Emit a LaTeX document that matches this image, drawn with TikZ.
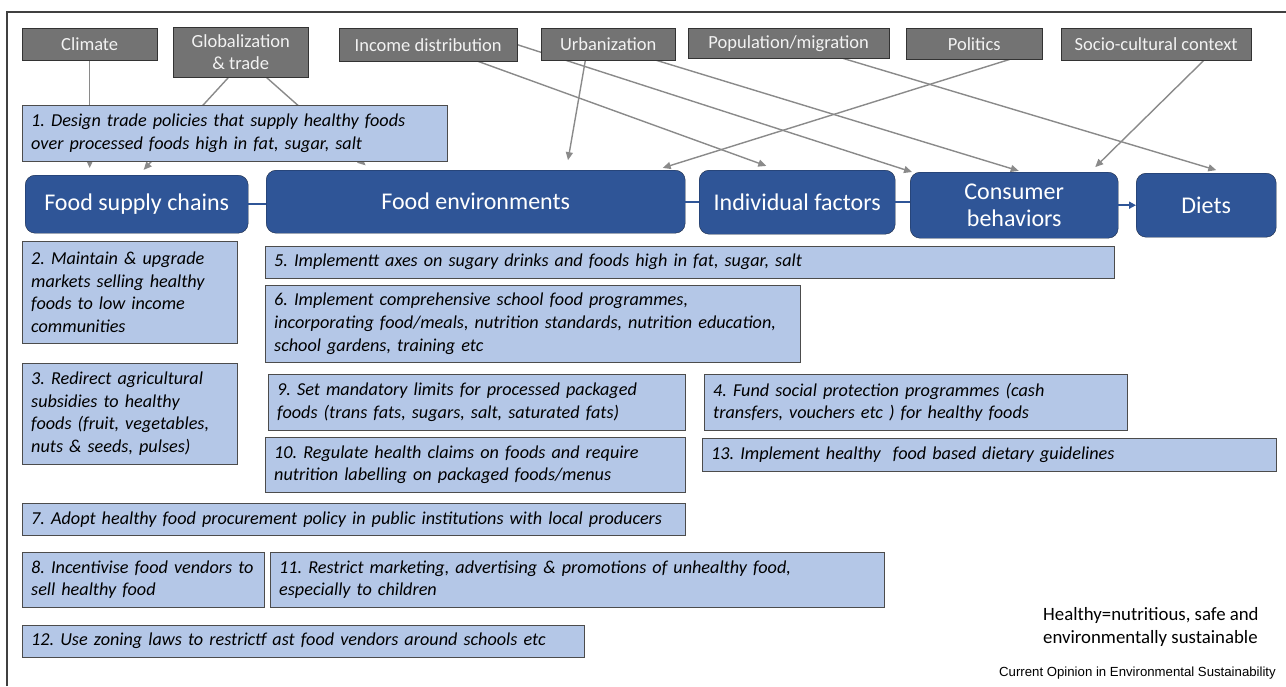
\documentclass[tikz,border=0pt]{standalone}
\usepackage{fontspec}
\setmainfont{Carlito}
\newfontfamily\creditfont{Liberation Sans}
\usetikzlibrary{arrows.meta,calc}
\definecolor{stageblue}{HTML}{2F5597}
\definecolor{stageline}{HTML}{1B2A47}
\definecolor{policyblue}{HTML}{B4C7E7}
\definecolor{drivergray}{HTML}{737373}
\definecolor{linkgray}{HTML}{8A8A8A}
\pgfdeclarelayer{background}
\pgfsetlayers{background,main}
\frenchspacing

\begin{document}
\begin{tikzpicture}[x=1pt,y=-1pt,
    driver/.style={rectangle,draw=black!80,fill=drivergray,text=white!95!black,anchor=north west,inner sep=0pt,align=center,font=\fontsize{18.5}{22}\selectfont},
    stage/.style={rectangle,rounded corners=10pt,draw=stageline,fill=stageblue,text=white,anchor=north west,inner sep=0pt,align=center,font=\fontsize{24}{27.5}\selectfont},
    policy/.style={rectangle,draw=black!70,fill=policyblue,anchor=north west,inner xsep=9pt,inner ysep=0pt,align=left,font=\fontsize{18.2}{22.6}\selectfont\itshape},
    link/.style={draw=linkgray,line width=1.4pt,-{Triangle[length=8pt,width=7pt]},shorten >=7pt},
    chain/.style={draw=stageblue,line width=1.8pt}]
  \useasboundingbox (0,0) rectangle (1286,686);
  \draw[black!75,line width=1.2pt] (7,686) -- (7,12) -- (1286,12);
  %drivers
  \node[driver,minimum width=135,minimum height=32] (climate) at (22,28) {Climate};
  \node[driver,minimum width=135,minimum height=50] (global) at (173,27) {Globalization\\\& trade};
  \node[driver,minimum width=178,minimum height=33] (income) at (339,28) {Income distribution};
  \node[driver,minimum width=134,minimum height=32] (urban) at (541,28) {Urbanization};
  \node[driver,minimum width=201,minimum height=30] (popmig) at (688,28) {Population/migration};
  \node[driver,minimum width=136,minimum height=31] (politics) at (906,28) {Politics};
  \node[driver,minimum width=190,minimum height=32] (socio) at (1061,28) {Socio-cultural context};
  %food system
  \node[stage,minimum width=223,minimum height=58] (supply) at (25,175) {Food supply chains};
  \node[stage,minimum width=419,minimum height=63] (environ) at (266,170) {Food environments};
  \node[stage,minimum width=196,minimum height=64] (indiv) at (699,170) {Individual factors};
  \node[stage,minimum width=208,minimum height=66] (consumer) at (910,172) {Consumer\\behaviors};
  \node[stage,minimum width=140,minimum height=64] (diets) at (1136,173) {Diets};
  %policies
  \node[policy,text width=407,minimum height=56] (pol1) at (22,105) {1. Design trade policies that supply healthy foods\\over processed foods high in fat, sugar, salt};
  \node[policy,text width=197,minimum height=102] (pol2) at (22,241) {2. Maintain \& upgrade\\markets selling healthy\\foods to low income\\communities};
  \node[policy,text width=197,minimum height=101] (pol3) at (22,363) {3. Redirect agricultural\\subsidies to healthy\\foods (fruit, vegetables,\\nuts \& seeds, pulses)};
  \node[policy,text width=831,minimum height=32] (pol5) at (265,246) {5. Implementt axes on sugary drinks and foods high in fat, sugar, salt};
  \node[policy,text width=517,minimum height=77] (pol6) at (265,285) {6. Implement comprehensive school food programmes,\\incorporating food/meals, nutrition standards, nutrition education,\\school gardens, training etc};
  \node[policy,text width=399,minimum height=56] (pol9) at (268,374) {9. Set mandatory limits for processed packaged\\foods (trans fats, sugars, salt, saturated fats)};
  \node[policy,text width=405,minimum height=56] (pol4) at (704,374) {4. Fund social protection programmes (cash\\transfers, vouchers etc ) for healthy foods};
  \node[policy,text width=402,minimum height=55] (pol10) at (265,437) {10. Regulate health claims on foods and require\\nutrition labelling on packaged foods/menus};
  \node[policy,text width=556,minimum height=33] (pol13) at (702,438) {13. Implement healthy\ \ food based dietary guidelines};
  \node[policy,text width=645,minimum height=32] (pol7) at (22,503) {7. Adopt healthy food procurement policy in public institutions with local producers};
  \node[policy,text width=224,minimum height=55] (pol8) at (22,552) {8. Incentivise food vendors to\\sell healthy food};
  \node[policy,text width=596,minimum height=55] (pol11) at (270,552) {11. Restrict marketing, advertising \& promotions of unhealthy food,\\especially to children};
  \node[policy,text width=544,minimum height=32] (pol12) at (22,625) {12. Use zoning laws to restrictf ast food vendors around schools etc};
  \node[anchor=north west,inner sep=0pt,align=left,font=\fontsize{18.8}{23}\selectfont] (note) at (1043,607) {Healthy=nutritious, safe and\\environmentally sustainable};
  \node[anchor=east,inner sep=0pt,font=\creditfont\fontsize{13.2}{15}\selectfont] (credit) at (1276,673) {Current Opinion in Environmental Sustainability};
  \begin{pgfonlayer}{background}
    \draw[link] (climate.south) -- (climate.south |- supply.north);
    \draw[link] ($(global.south west)!0.41!(global.south east)$) -- ($(supply.north west)!0.51!(supply.north east)$);
    \draw[link] ($(global.south west)!0.69!(global.south east)$) -- ($(environ.north west)!0.25!(environ.north east)$);
    \draw[black,line width=1.2pt,dotted] ($(global.south west)!0.52!(global.south east)$) -- ($(global.south west)!0.52!(global.south east)$ |- pol1.north);
    \draw[link,shorten >=12pt] ($(income.south west)!0.78!(income.south east)$) -- ($(indiv.north west)!0.40!(indiv.north east)$);
    \draw[link,shorten >=0pt] ($(income.north east)!0.5!(income.south east)$) -- ($(consumer.north west)+(2,0)$);
    \draw[link,shorten >=10pt] ($(urban.south west)!0.33!(urban.south east)$) -- ($(environ.north west)!0.716!(environ.north east)$);
    \draw[link,shorten >=4pt] ($(urban.south west)!0.86!(urban.south east)$) -- ($(consumer.north west)!0.54!(consumer.north east)$);
    \draw[link,shorten >=10pt] ($(popmig.south west)!0.77!(popmig.south east)$) -- ($(diets.north west)!0.64!(diets.north east)$);
    \draw[link] ($(politics.south west)!0.76!(politics.south east)$) -- ($(environ.north west)!0.93!(environ.north east)$);
    \draw[link] ($(socio.south west)!0.75!(socio.south east)$) -- ($(consumer.north west)!0.865!(consumer.north east)$);
  \end{pgfonlayer}
  \draw[chain] (supply.east) -- (supply.east -| environ.west);
  \draw[chain] (environ.east) -- (environ.east -| indiv.west);
  \draw[chain] (indiv.east) -- (indiv.east -| consumer.west);
  \draw[chain,-{Triangle[length=7pt,width=7pt]}] (consumer.east) -- (consumer.east -| diets.west);
\end{tikzpicture}
\end{document}
